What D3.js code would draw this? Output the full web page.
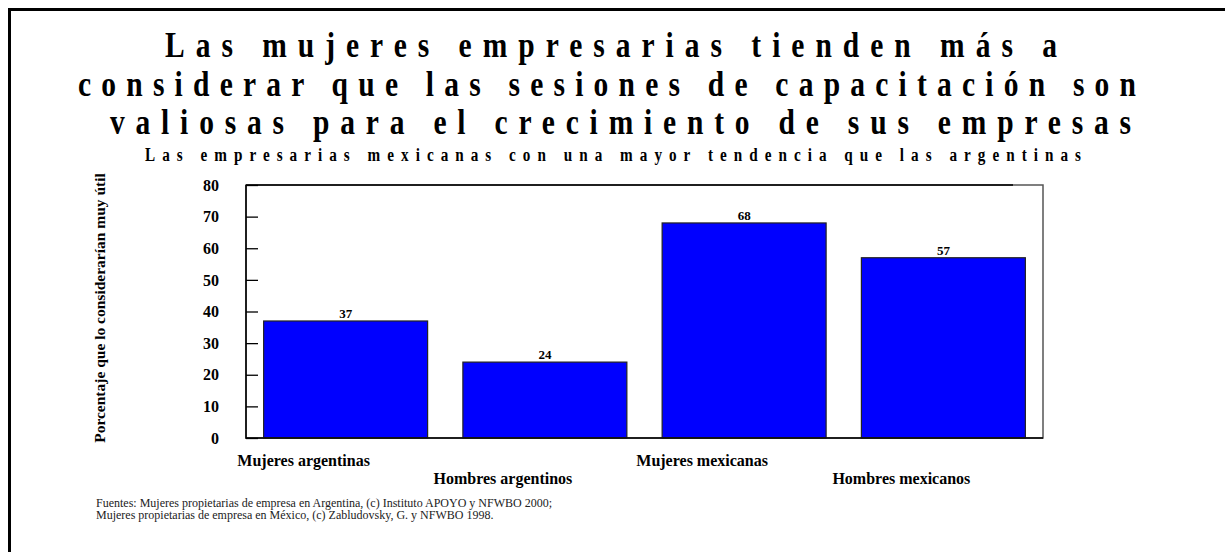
<!DOCTYPE html>
<html>
<head>
<meta charset="utf-8">
<script src="https://cdn.jsdelivr.net/npm/d3@7"></script>
<style>
  body { margin: 0; background: #fff; }
  svg { display: block; }
  text { font-family: "Liberation Serif", "Times New Roman", serif; }
</style>
</head>
<body>
<script>
var width = 1225, height = 552;

// data
var categories = ["Mujeres argentinas", "Hombres argentinos", "Mujeres mexicanas", "Hombres mexicanos"];
var values = [37, 24, 68, 57];
var yTicks = [0, 10, 20, 30, 40, 50, 60, 70, 80];
var titleLines = [
  "Las mujeres empresarias tienden más a",
  "considerar que las sesiones de capacitación son",
  "valiosas para el crecimiento de sus empresas"
];
var subtitle = "Las empresarias mexicanas con una mayor tendencia que las argentinas";
var yTitle = "Porcentaje que lo considerarían muy útil";
var notes = [
  "Fuentes: Mujeres propietarias de empresa en Argentina, (c) Instituto APOYO y NFWBO 2000;",
  "Mujeres propietarias de empresa en México, (c) Zabludovsky, G. y NFWBO 1998."
];

var svg = d3.select("body").append("svg")
    .attr("width", width)
    .attr("height", height);

// outer frame (only top and left show)
svg.append("path")
    .attr("d", "M9.5," + height + "V9.5H" + width)
    .attr("fill", "none")
    .attr("stroke", "#000")
    .attr("stroke-width", 3);

// title, condensed glyphs with wide spacing
var titleSpans = [[165, 1057, 57], [78, 1136, 96], [110, 1131, 134]];
var sx = 0.82;
titleLines.forEach(function(t, i) {
  var s = titleSpans[i];
  svg.append("g")
      .attr("transform", "translate(" + s[0] + "," + s[2] + ") scale(" + sx + ",1)")
    .append("text")
      .attr("x", 0)
      .attr("textLength", (s[1] - s[0]) / sx)
      .attr("lengthAdjust", "spacing")
      .style("font-size", "36px")
      .style("font-weight", "bold")
      .text(t);
});

svg.append("g")
    .attr("transform", "translate(145,161) scale(0.8,1)")
  .append("text")
    .attr("textLength", (1081 - 145) / 0.8)
    .attr("lengthAdjust", "spacing")
    .style("font-size", "19px")
    .style("font-weight", "bold")
    .text(subtitle);

// plot area
var margin = {left: 246, right: 1043, top: 185, bottom: 438};

var x = d3.scaleBand()
    .domain(categories)
    .range([margin.left, margin.right])
    .paddingInner(0.177)
    .paddingOuter(0.0885);

var y = d3.scaleLinear()
    .domain([0, 80])
    .range([margin.bottom, margin.top]);

// bars
svg.selectAll(".bar")
    .data(values)
  .enter().append("rect")
    .attr("class", "bar")
    .attr("x", function(d, i) { return x(categories[i]); })
    .attr("y", function(d) { return y(d); })
    .attr("width", x.bandwidth())
    .attr("height", function(d) { return y(0) - y(d); })
    .attr("fill", "#0000ff")
    .attr("stroke", "#222")
    .attr("stroke-width", 1.2);

// box
svg.append("rect")
    .attr("x", margin.left)
    .attr("y", margin.top)
    .attr("width", margin.right - margin.left)
    .attr("height", margin.bottom - margin.top)
    .attr("fill", "none")
    .attr("stroke", "#555")
    .attr("stroke-width", 1.5);
svg.append("path")
    .attr("d", "M" + margin.left + "," + margin.top + "H" + (margin.right - 30) +
               "M" + margin.left + "," + margin.top + "V" + margin.bottom + "H" + margin.right)
    .attr("stroke", "#000")
    .attr("stroke-width", 1.5)
    .attr("fill", "none");

// y axis, ticks inward
var yAxis = d3.axisLeft(y).tickValues(yTicks).tickSize(-12).tickPadding(27);
var ga = svg.append("g")
    .attr("transform", "translate(" + margin.left + ",0)")
    .call(yAxis);
ga.select(".domain").remove();
ga.selectAll(".tick line").attr("stroke", "#000").attr("stroke-width", 1.3);
ga.selectAll(".tick text")
    .style("font-family", "Liberation Serif, serif")
    .style("font-size", "16px")
    .style("font-weight", "bold")
    .attr("fill", "#000");

// value labels
svg.selectAll(".val")
    .data(values)
  .enter().append("text")
    .attr("class", "val")
    .attr("x", function(d, i) { return x(categories[i]) + x.bandwidth() / 2; })
    .attr("y", function(d) { return y(d) - 3; })
    .attr("text-anchor", "middle")
    .style("font-size", "13px")
    .style("font-weight", "bold")
    .text(function(d) { return d; });

// category labels, staggered
svg.selectAll(".cat")
    .data(categories)
  .enter().append("text")
    .attr("class", "cat")
    .attr("x", function(d) { return x(d) + x.bandwidth() / 2 - 42; })
    .attr("y", function(d, i) { return i % 2 === 0 ? 466 : 484; })
    .attr("text-anchor", "middle")
    .style("font-size", "16px")
    .style("font-weight", "bold")
    .text(function(d) { return d; });

// y title
svg.append("text")
    .attr("transform", "translate(105,308) rotate(-90)")
    .attr("text-anchor", "middle")
    .style("font-size", "15.5px")
    .style("font-weight", "bold")
    .text(yTitle);

// sources
svg.selectAll(".note")
    .data(notes)
  .enter().append("text")
    .attr("class", "note")
    .attr("x", 96)
    .attr("y", function(d, i) { return 507 + i * 12; })
    .style("font-size", "12px")
    .attr("fill", "#222")
    .text(function(d) { return d; });
</script>
</body>
</html>
